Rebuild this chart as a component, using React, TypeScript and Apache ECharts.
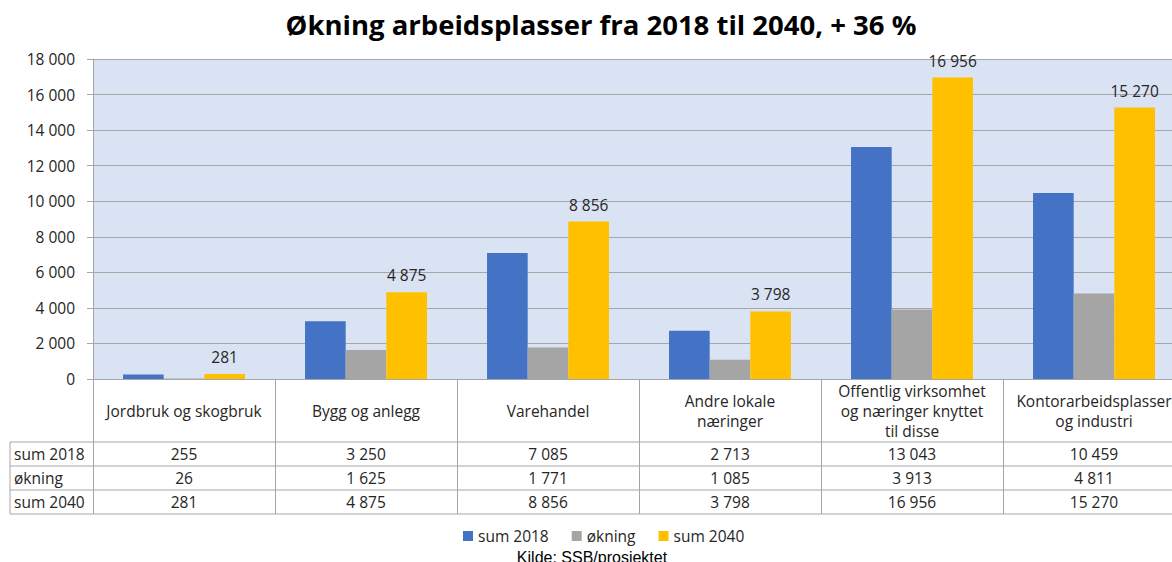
import React, { useEffect, useRef } from "react";
import * as echarts from "echarts";

const categories = [
  "Jordbruk og skogbruk",
  "Bygg og anlegg",
  "Varehandel",
  "Andre lokale\nnæringer",
  "Offentlig virksomhet\nog næringer knyttet\ntil disse",
  "Kontorarbeidsplasser\nog industri",
];
const sum2018 = [255, 3250, 7085, 2713, 13043, 10459];
const okning = [26, 1625, 1771, 1085, 3913, 4811];
const sum2040 = [281, 4875, 8856, 3798, 16956, 15270];
const seriesNames = ["sum 2018", "økning", "sum 2040"];
const colors = ["#4472c4", "#a5a5a5", "#ffc000"];
const yTicks = { min: 0, max: 18000, interval: 2000 };

const fmt = (n: number) => String(n).replace(/\B(?=(\d{3})+(?!\d))/g, " ");

const FONT = "Open Sans";
const FS = 15.5;
const GRID_LEFT = 93;
const GRID_TOP = 59;
const GRID_H = 320;
const GRID_W = 1092;
const TABLE_LEFT = 10;
const HEADER_BOTTOM = 442;
const ROW_H = 24;
const LINE_COLOR = "#a6a6a6";
const TEXT_COLOR = "#262626";

export default function App() {
  const ref = useRef<HTMLDivElement>(null);
  useEffect(() => {
    const chart = echarts.init(ref.current!, null, { renderer: "svg" });
    const base = GRID_TOP + GRID_H;
    const rows = [sum2018, okning, sum2040];
    const rowAxes = rows.map((r, i) => ({
      type: "category" as const,
      position: "bottom" as const,
      gridIndex: 0,
      data: r.map(fmt),
      axisLine: { show: false },
      axisTick: { show: false },
      splitLine: { show: false },
      axisLabel: {
        interval: 0,
        margin: HEADER_BOTTOM + ROW_H * i + ROW_H / 2 - base,
        verticalAlign: "middle" as const,
        fontFamily: FONT,
        fontSize: FS,
        color: TEXT_COLOR,
      },
    }));
    const graphics: any[] = [];
    for (let i = 0; i <= rows.length; i++) {
      const y = HEADER_BOTTOM + ROW_H * i;
      graphics.push({
        type: "line",
        shape: { x1: TABLE_LEFT, y1: y, x2: GRID_LEFT + GRID_W, y2: y },
        style: { stroke: LINE_COLOR, lineWidth: 1 },
      });
    }
    graphics.push({
      type: "line",
      shape: { x1: TABLE_LEFT, y1: HEADER_BOTTOM, x2: TABLE_LEFT, y2: HEADER_BOTTOM + ROW_H * rows.length },
      style: { stroke: LINE_COLOR, lineWidth: 1 },
    });
    seriesNames.forEach((n, i) => {
      graphics.push({
        type: "text",
        x: TABLE_LEFT + 4,
        y: HEADER_BOTTOM + ROW_H * i + ROW_H / 2,
        style: { text: n, fontFamily: FONT, fontSize: FS, fill: TEXT_COLOR, verticalAlign: "middle", align: "left" },
      });
    });
    graphics.push({
      type: "text",
      x: 592,
      y: 557,
      style: {
        text: "Kilde: SSB/prosjektet",
        fontFamily: "Liberation Sans",
        fontSize: 16,
        fill: "#000",
        align: "center",
        verticalAlign: "middle",
      },
    });

    chart.setOption({
      animation: false,
      backgroundColor: "#fff",
      title: {
        text: "Økning arbeidsplasser fra 2018 til 2040, + 36 %",
        left: 596,
        textAlign: "center",
        top: 5,
        textStyle: { fontFamily: FONT, fontWeight: "bold", fontSize: 27.5, color: "#000" },
      },
      legend: {
        data: seriesNames,
        left: 463,
        top: 528,
        padding: 0,
        itemWidth: 10,
        itemHeight: 10,
        itemGap: 23,
        icon: "rect",
        textStyle: { fontFamily: FONT, fontSize: FS, color: TEXT_COLOR },
      },
      grid: {
        left: GRID_LEFT,
        top: GRID_TOP,
        width: GRID_W,
        height: GRID_H,
        show: true,
        backgroundColor: "#dae3f3",
        borderWidth: 0,
        containLabel: false,
      },
      xAxis: [
        {
          type: "category",
          position: "bottom",
          data: categories,
          axisLine: { show: true, lineStyle: { color: LINE_COLOR, width: 1 } },
          axisTick: { show: true, inside: false, length: HEADER_BOTTOM + ROW_H * 3 - base, interval: 0, lineStyle: { color: LINE_COLOR } },
          axisLabel: {
            interval: 0,
            margin: 32,
            verticalAlign: "middle",
            lineHeight: 20,
            fontFamily: FONT,
            fontSize: FS,
            color: TEXT_COLOR,
          },
        },
        ...rowAxes,
      ],
      yAxis: {
        type: "value",
        min: yTicks.min,
        max: yTicks.max,
        interval: yTicks.interval,
        axisLine: { show: true, lineStyle: { color: LINE_COLOR } },
        axisTick: { show: true, length: 6, lineStyle: { color: LINE_COLOR } },
        splitLine: { show: true, lineStyle: { color: LINE_COLOR, width: 1 } },
        axisLabel: {
          margin: 18,
          formatter: (v: number) => fmt(v),
          fontFamily: FONT,
          fontSize: FS,
          color: TEXT_COLOR,
        },
      },
      series: [sum2018, okning, sum2040].map((d, i) => ({
        name: seriesNames[i],
        type: "bar",
        xAxisIndex: 0,
        data: d,
        barGap: "0%",
        barCategoryGap: "33%",
        itemStyle: { color: colors[i] },
        label:
          i === 2
            ? {
                show: true,
                position: "top",
                distance: 9,
                formatter: (p: any) => fmt(p.value),
                fontFamily: FONT,
                fontSize: FS,
                color: TEXT_COLOR,
              }
            : { show: false },
      })),
      graphic: graphics,
    });
    return () => chart.dispose();
  }, []);
  return (
    <div style={{ position: "fixed", left: 0, top: 0, width: 1172, height: 562, overflow: "hidden" }}>
      <div ref={ref} style={{ position: "absolute", left: 0, top: 0, width: 1200, height: 562 }} />
    </div>
  );
}
